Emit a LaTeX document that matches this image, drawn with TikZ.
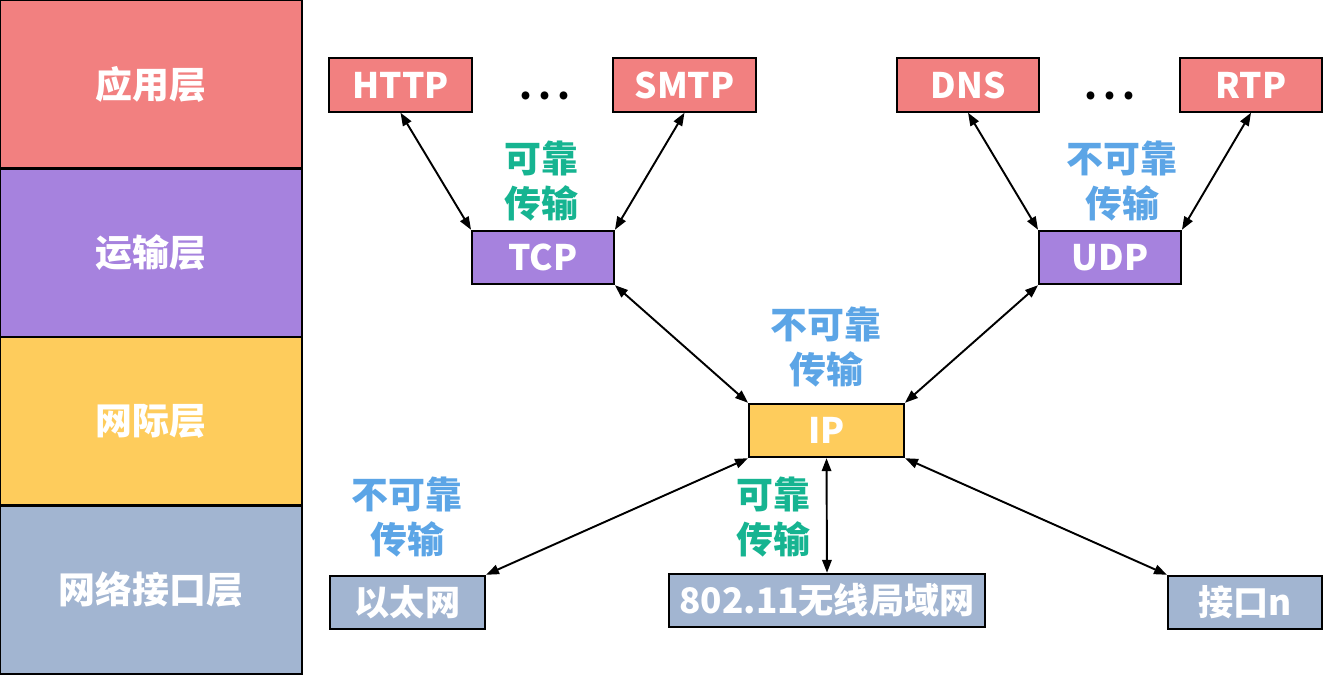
\documentclass[tikz,border=0pt]{standalone}
\usepackage{fontspec}
\setmainfont{Noto Sans CJK SC}
\usetikzlibrary{arrows.meta}
\definecolor{applayer}{RGB}{242, 128, 128}
\definecolor{translayer}{RGB}{166, 130, 222}
\definecolor{netlayer}{RGB}{254, 204, 92}
\definecolor{linklayer}{RGB}{162, 181, 209}
\definecolor{reliable}{RGB}{22, 180, 145}
\definecolor{unreliable}{RGB}{92, 165, 230}

\begin{document}
\begin{tikzpicture}[
	x=0.02cm, y=-0.02cm,
	>={Triangle[length=0.26cm, width=0.19cm]},
	% Styles for the layer column
	layerbox/.style={draw=black, line width=1.5pt, minimum width=6.04cm, minimum height=3.37cm, inner sep=0pt, text=white, font=\fontsize{21}{26}\selectfont\bfseries},
	% Styles for the protocol boxes
	protobox/.style={draw=black, line width=1.1pt, minimum height=1.07cm, inner sep=0pt, text=white, font=\fontsize{20}{24}\selectfont\bfseries},
	% Styles for text and links
	reltext/.style={text=reliable, align=center, font=\fontsize{21}{26}\selectfont\bfseries},
	unreltext/.style={text=unreliable, align=center, font=\fontsize{21}{26}\selectfont\bfseries},
	dotstext/.style={text=black, font=\fontsize{21}{26}\selectfont\bfseries},
	link/.style={<->, black, line width=1.1pt}
	]
	\useasboundingbox (0,0) rectangle (1324,676);
	
	% ==========================================
	% LEFT: LAYER COLUMN
	% ==========================================
	\node[layerbox, fill=applayer] (app) at (151, 84.25) {应用层};
	\node[layerbox, fill=translayer] (trans) at (151, 252.75) {运输层};
	\node[layerbox, fill=netlayer] (net) at (151, 421.25) {网际层};
	\node[layerbox, fill=linklayer] (link) at (151, 589.75) {网络接口层};
	
	% ==========================================
	% APPLICATION PROTOCOLS
	% ==========================================
	\node[protobox, fill=applayer, minimum width=2.86cm] (http) at (400.5, 85) {HTTP};
	\node[protobox, fill=applayer, minimum width=2.86cm] (smtp) at (684.5, 85) {SMTP};
	\node[protobox, fill=applayer, minimum width=2.84cm] (dns) at (968, 85) {DNS};
	\node[protobox, fill=applayer, minimum width=2.84cm] (rtp) at (1251, 85) {RTP};
	\node[dotstext] (dotsl) at (545, 96) {.\,.\,.};
	\node[dotstext] (dotsr) at (1110, 96) {.\,.\,.};
	
	% ==========================================
	% TRANSPORT PROTOCOLS
	% ==========================================
	\node[protobox, fill=translayer, minimum width=2.84cm] (tcp) at (543, 257.5) {TCP};
	\node[protobox, fill=translayer, minimum width=2.84cm] (udp) at (1110, 257.5) {UDP};
	\node[reltext] (tcprel) at (541, 181) {可靠\\传输};
	\node[unreltext] (udprel) at (1122, 181) {不可靠\\传输};
	
	% ==========================================
	% INTERNET PROTOCOL
	% ==========================================
	\node[protobox, fill=netlayer, minimum width=3.1cm] (ip) at (826.5, 430.5) {IP};
	\node[unreltext] (iprel) at (826, 347) {不可靠\\传输};
	
	% ==========================================
	% NETWORK INTERFACES
	% ==========================================
	\node[protobox, fill=linklayer, minimum width=3.1cm] (eth) at (407.5, 602.5) {以太网};
	\node[protobox, fill=linklayer, minimum width=6.32cm] (wlan) at (827, 600.5) {802.11无线局域网};
	\node[protobox, fill=linklayer, minimum width=3.08cm] (ifn) at (1245, 602.5) {接口n};
	\node[unreltext] (ethrel) at (407, 517) {不可靠\\传输};
	\node[reltext] (wlanrel) at (773, 517) {可靠\\传输};
	
	% ==========================================
	% LINKS
	% ==========================================
	\draw[link] (http.south) -- (tcp.north west);
	\draw[link] (smtp.south) -- (tcp.north east);
	\draw[link] (dns.south) -- (udp.north west);
	\draw[link] (rtp.south) -- (udp.north east);
	\draw[link] (tcp.south east) -- (ip.north west);
	\draw[link] (udp.south west) -- (ip.north east);
	\draw[link] (ip.south west) -- (eth.north east);
	\draw[link] (ip.south) -- (wlan.north);
	\draw[link] (ip.south east) -- (ifn.north west);
	
\end{tikzpicture}
\end{document}
